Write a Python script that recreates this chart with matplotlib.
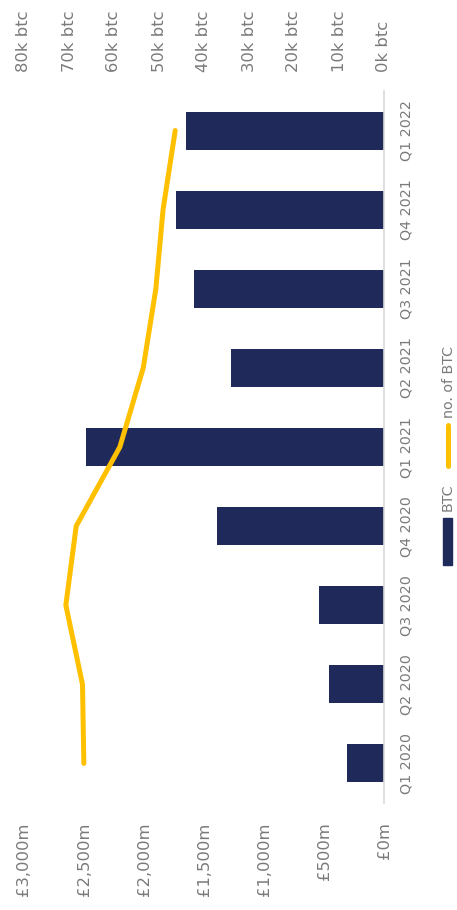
import matplotlib
matplotlib.use('Agg')
import matplotlib.pyplot as plt
from matplotlib import font_manager
from matplotlib.lines import Line2D
from matplotlib.patches import Rectangle

# Data
quarters = ['Q1 2020', 'Q2 2020', 'Q3 2020', 'Q4 2020', 'Q1 2021',
            'Q2 2021', 'Q3 2021', 'Q4 2021', 'Q1 2022']
value_gbp_m = [308, 461, 544, 1389, 2481, 1272, 1581, 1731, 1650]
btc_k = [66.7, 67.0, 70.7, 68.4, 58.7, 53.5, 50.7, 49.1, 46.4]
gbp_ticks = [0, 500, 1000, 1500, 2000, 2500, 3000]
gbp_labels = ['£0m', '£500m', '£1,000m', '£1,500m', '£2,000m', '£2,500m', '£3,000m']
btc_ticks = [0, 10, 20, 30, 40, 50, 60, 70, 80]
btc_labels = ['%dk btc' % t for t in btc_ticks]

NAVY = '#1f2a5a'
GOLD = '#ffc000'
GREY = '#7a7a7a'

installed = {f.name for f in font_manager.fontManager.ttflist}
narrow = 'Liberation Sans Narrow' if 'Liberation Sans Narrow' in installed else 'DejaVu Sans'
small = 12.5 if narrow != 'DejaVu Sans' else 10.3

fig = plt.figure(figsize=(4.57, 9.10), dpi=100)
ax = fig.add_axes([24 / 457, 1 - 803 / 910, 360 / 457, 712 / 910])

pos = list(range(len(quarters)))
ax.barh(pos, value_gbp_m, height=0.48, color=NAVY, zorder=2)
ax.set_xlim(3000, 0)
ax.set_ylim(-0.5, len(quarters) - 0.5)

ax.set_xticks(gbp_ticks)
ax.set_xticklabels(gbp_labels, rotation=90, fontsize=11.8, color=GREY)
ax.tick_params(axis='x', length=0, pad=14)

ax.yaxis.tick_right()
ax.set_yticks(pos)
ax.set_yticklabels(quarters, rotation=90, va='center', fontsize=small,
                   color=GREY, family=narrow)
ax.tick_params(axis='y', length=0, pad=11)

for side in ['top', 'left', 'bottom']:
    ax.spines[side].set_visible(False)
ax.spines['right'].set_color('#d9d9d9')
ax.spines['right'].set_linewidth(1.2)

# btc line on the secondary scale
ax2 = ax.twiny()
ax2.plot(btc_k, pos, color=GOLD, lw=3.6, solid_capstyle='round',
         solid_joinstyle='round', zorder=3)
ax2.set_xlim(80, 0)
ax2.set_xticks(btc_ticks)
ax2.set_xticklabels(btc_labels, rotation=90, fontsize=11.8, color=GREY)
ax2.tick_params(axis='x', length=0, pad=14)
for side in ax2.spines:
    ax2.spines[side].set_visible(False)

# Rotated legend, drawn by hand
def fx(px):
    return px / 457

def fy(py):
    return 1 - py / 910

fig.patches.append(Rectangle((fx(443), fy(565)), fx(9), 47 / 910,
                             transform=fig.transFigure, color=NAVY))
fig.text(fx(448), fy(511), 'BTC', rotation=90, ha='center', va='bottom',
         fontsize=small, color=GREY, family=narrow)
fig.lines.append(Line2D([fx(447.5), fx(447.5)], [fy(466), fy(425)],
                        transform=fig.transFigure, color=GOLD, lw=3.6,
                        solid_capstyle='round'))
fig.text(fx(449), fy(418), 'no. of BTC', rotation=90, ha='center', va='bottom',
         fontsize=small, color=GREY, family=narrow)

fig.savefig('out.png', dpi=100)
